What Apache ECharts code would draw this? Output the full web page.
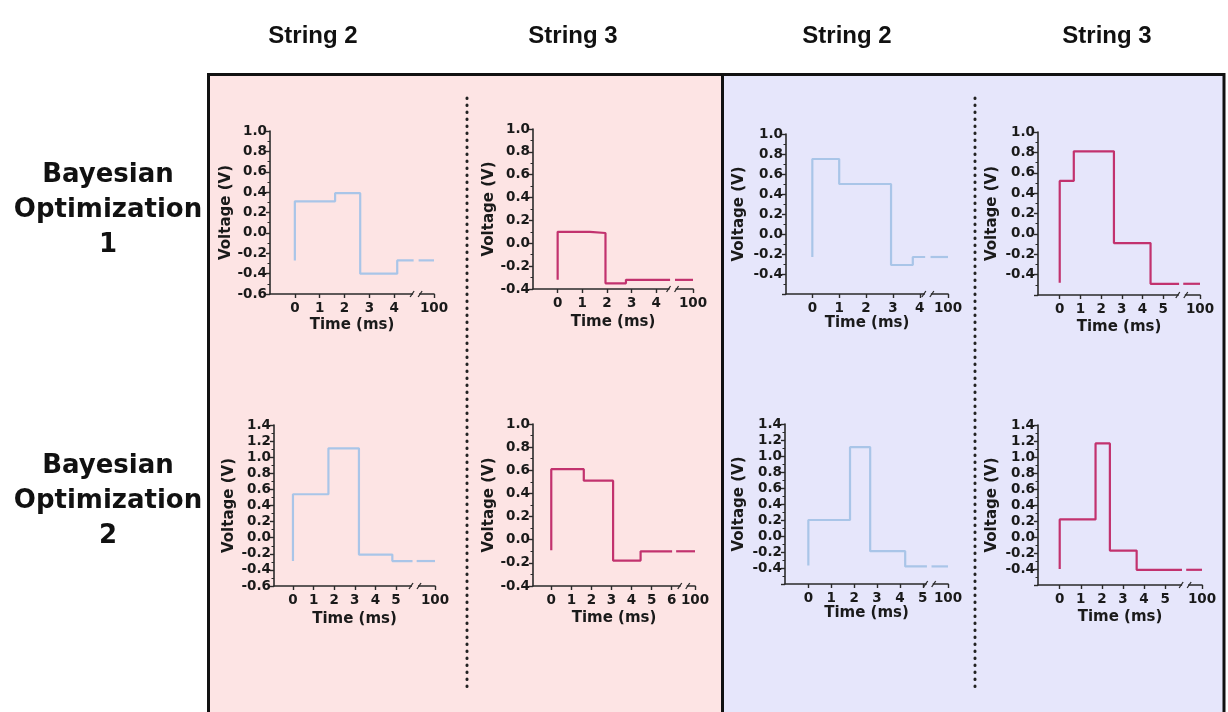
<!DOCTYPE html>
<html><head><meta charset="utf-8">
<script src="https://cdn.jsdelivr.net/npm/echarts@6/dist/echarts.min.js"></script>
<style>html,body{margin:0;padding:0;background:#fff}#c{width:1228px;height:712px}</style>
</head><body><div id="c"></div>
<script>
// ---------- text ----------
const columnHeaders = ['String 2', 'String 3', 'String 2', 'String 3'];
const rowLabels = ['Bayesian\nOptimization\n1', 'Bayesian\nOptimization\n2'];
const xAxisName = 'Time (ms)';
const yAxisName = 'Voltage (V)';
const finalTimeMs = 100;

// ---------- data: step times (ms) and voltage levels (V) ----------
// point k: at time times[k] the voltage becomes volts[k]; the last level is held until 100 ms
const bo1Str2LeftTimes  = [0, 0, 1.62, 2.63, 4.12];
const bo1Str2LeftVolts  = [-0.27, 0.31, 0.39, -0.40, -0.27];
const bo1Str3LeftTimes  = [0, 0, 1.31, 1.94, 2.77];
const bo1Str3LeftVolts  = [-0.32, 0.10, 0.09, -0.35, -0.32];
const bo1Str2RightTimes = [0, 0, 1.00, 2.93, 3.74];
const bo1Str2RightVolts = [-0.23, 0.75, 0.50, -0.31, -0.23];
const bo1Str3RightTimes = [0, 0, 0.68, 2.62, 4.39];
const bo1Str3RightVolts = [-0.48, 0.52, 0.81, -0.09, -0.49];
const bo2Str2LeftTimes  = [0, 0, 1.72, 3.20, 4.82];
const bo2Str2LeftVolts  = [-0.29, 0.54, 1.11, -0.21, -0.29];
const bo2Str3LeftTimes  = [0, 0, 1.62, 3.08, 4.45];
const bo2Str3LeftVolts  = [-0.09, 0.61, 0.51, -0.18, -0.10];
const bo2Str2RightTimes = [0, 0, 1.82, 2.70, 4.23];
const bo2Str2RightVolts = [-0.37, 0.20, 1.11, -0.19, -0.38];
const bo2Str3RightTimes = [0, 0, 1.70, 2.38, 3.65];
const bo2Str3RightVolts = [-0.40, 0.22, 1.17, -0.17, -0.41];

// ---------- tick labels ----------
const xTicks4 = [0, 1, 2, 3, 4, 100];
const xTicks5 = [0, 1, 2, 3, 4, 5, 100];
const xTicks6 = [0, 1, 2, 3, 4, 5, 6, 100];

const panelTimes = [bo1Str2LeftTimes, bo1Str3LeftTimes, bo1Str2RightTimes, bo1Str3RightTimes,
                    bo2Str2LeftTimes, bo2Str3LeftTimes, bo2Str2RightTimes, bo2Str3RightTimes];
const panelVolts = [bo1Str2LeftVolts, bo1Str3LeftVolts, bo1Str2RightVolts, bo1Str3RightVolts,
                    bo2Str2LeftVolts, bo2Str3LeftVolts, bo2Str2RightVolts, bo2Str3RightVolts];
const panelXTicks = [xTicks4, xTicks4, xTicks4, xTicks5, xTicks5, xTicks6, xTicks5, xTicks5];
const panelString = [2, 3, 2, 3, 2, 3, 2, 3];

// ---------- layout (positions/sizes only) ----------
const layout = [
  {left:270, top:131, width:164, height:163, xMin:-1.00, xEnd:5.60, lineBrk:4.88, axisBrk:4.88, yMin:-0.6, yMax:1.0, yLabelMin:-0.6, gapY:36, gapX:24, bg:'pink'},
  {left:533, top:129, width:160, height:160, xMin:-1.00, xEnd:5.49, lineBrk:4.66, axisBrk:4.66, yMin:-0.4, yMax:1.0, yLabelMin:-0.4, gapY:34, gapX:26, bg:'pink'},
  {left:786, top:134, width:162, height:160, xMin:-0.98, xEnd:5.05, lineBrk:4.30, axisBrk:4.30, yMin:-0.6, yMax:1.0, yLabelMin:-0.4, gapY:39, gapX:18, bg:'lav'},
  {left:1038, top:132, width:162, height:163, xMin:-1.05, xEnd:6.78, lineBrk:5.87, axisBrk:5.90, yMin:-0.6, yMax:1.0, yLabelMin:-0.4, gapY:38, gapX:25, bg:'lav'},
  {left:274, top:425, width:161, height:161, xMin:-0.92, xEnd:6.89, lineBrk:5.90, axisBrk:5.92, yMin:-0.6, yMax:1.4, yLabelMin:-0.6, gapY:37, gapX:26, bg:'pink'},
  {left:533, top:424, width:162, height:162, xMin:-0.91, xEnd:7.16, lineBrk:6.12, axisBrk:6.60, yMin:-0.4, yMax:1.0, yLabelMin:-0.4, gapY:34, gapX:25, bg:'pink'},
  {left:785, top:424, width:163, height:160, xMin:-1.02, xEnd:6.10, lineBrk:5.28, axisBrk:5.30, yMin:-0.6, yMax:1.4, yLabelMin:-0.4, gapY:38, gapX:18, bg:'lav'},
  {left:1038, top:425, width:164, height:160, xMin:-1.03, xEnd:6.75, lineBrk:5.90, axisBrk:5.95, yMin:-0.6, yMax:1.4, yLabelMin:-0.4, gapY:38, gapX:25, bg:'lav'}
];

const FONT = '"DejaVu Sans", sans-serif';
const HEAD_FONT = '"Liberation Sans", Arial, sans-serif';
const AXIS_COLOR = '#2a2a2a';
const BG = {pink:'#fde4e4', lav:'#e6e6fb'};
const LINE_COLOR = {2:'#a9c5e8', 3:'#c2326e'};

function axisPos(t, lay) { return t >= finalTimeMs ? lay.xEnd : t; }

const grids = [], xAxes = [], yAxes = [], series = [];
layout.forEach((lay, i) => {
  grids.push({left: lay.left, top: lay.top, width: lay.width, height: lay.height, containLabel: false});
  const tickPos = panelXTicks[i].map(t => axisPos(t, lay));
  xAxes.push({
    type:'value', gridIndex:i, min:lay.xMin, max:lay.xEnd,
    axisLine:{show:true, onZero:false, lineStyle:{color:AXIS_COLOR, width:1.6}},
    axisTick:{show:true, customValues:tickPos, length:4, lineStyle:{color:AXIS_COLOR, width:1.4}},
    axisLabel:{show:true, customValues:tickPos, margin:7, color:'#1a1a1a', fontFamily:FONT, fontWeight:'bold', fontSize:13.5,
      formatter: v => (v > lay.axisBrk ? String(finalTimeMs) : String(Math.round(v)))},
    splitLine:{show:false},
    name:xAxisName, nameLocation:'middle', nameGap:lay.gapX,
    nameTextStyle:{color:'#1a1a1a', fontFamily:FONT, fontWeight:'bold', fontSize:15}
  });
  yAxes.push({
    type:'value', gridIndex:i, min:lay.yMin, max:lay.yMax, interval:0.2,
    axisLine:{show:true, onZero:false, lineStyle:{color:AXIS_COLOR, width:1.6}},
    axisTick:{show:true, length:4, lineStyle:{color:AXIS_COLOR, width:1.4}},
    minorTick:{show:true, splitNumber:2, length:2.5, lineStyle:{color:AXIS_COLOR, width:1}},
    axisLabel:{margin:3, color:'#1a1a1a', fontFamily:FONT, fontWeight:'bold', fontSize:13.5,
      formatter: v => (v < lay.yLabelMin - 1e-6 ? '' : (Math.abs(v) < 1e-9 ? 0 : v).toFixed(1))},
    splitLine:{show:false},
    name:yAxisName, nameLocation:'middle', nameGap:lay.gapY,
    nameTextStyle:{color:'#1a1a1a', fontFamily:FONT, fontWeight:'bold', fontSize:15}
  });
  const times = panelTimes[i], volts = panelVolts[i];
  const last = volts[volts.length - 1];
  const color = LINE_COLOR[panelString[i]];
  const mainData = times.map((t, k) => [axisPos(t, lay), volts[k]]);
  mainData.push([lay.lineBrk - 0.1, last]);
  series.push({
    type:'line', xAxisIndex:i, yAxisIndex:i, step:'end', symbol:'none', silent:true, z:3,
    lineStyle:{color, width:2.2}, data: mainData
  });
  series.push({
    type:'line', xAxisIndex:i, yAxisIndex:i, symbol:'none', silent:true, z:3,
    lineStyle:{color, width:2.2}, data: [[lay.lineBrk + 0.1, last], [axisPos(finalTimeMs, lay), last]]
  });
  const bgc = BG[lay.bg];
  series.push({
    type:'custom', xAxisIndex:i, yAxisIndex:i, silent:true, clip:false, z:6,
    data:[[lay.axisBrk, lay.yMin]],
    renderItem: (params, api) => {
      const p = api.coord([api.value(0), api.value(1)]);
      return {type:'group', children:[
        {type:'rect', shape:{x:p[0]-3, y:p[1]-2.5, width:6, height:5}, style:{fill:bgc}},
        {type:'line', shape:{x1:p[0]-6, y1:p[1]+3, x2:p[0]-2, y2:p[1]-3}, style:{stroke:AXIS_COLOR, lineWidth:1.3}},
        {type:'line', shape:{x1:p[0]+2, y1:p[1]+3, x2:p[0]+6, y2:p[1]-3}, style:{stroke:AXIS_COLOR, lineWidth:1.3}}
      ]};
    }
  });
});

const headerX = [313, 573, 847, 1107];
const rowY = [210, 501];
const graphics = [
  {type:'rect', z:-20, shape:{x:208.5, y:74.5, width:514, height:660}, style:{fill:BG.pink, stroke:'#111', lineWidth:3}},
  {type:'rect', z:-20, shape:{x:722.5, y:74.5, width:501.5, height:660}, style:{fill:BG.lav, stroke:'#111', lineWidth:3}},
  {type:'line', z:-10, shape:{x1:467, y1:98, x2:467, y2:690}, style:{stroke:'#222', lineWidth:3, lineDash:[0.5, 6.5], lineCap:'round'}},
  {type:'line', z:-10, shape:{x1:975, y1:98, x2:975, y2:690}, style:{stroke:'#222', lineWidth:3, lineDash:[0.5, 6.5], lineCap:'round'}}
];
columnHeaders.forEach((h, k) => graphics.push({type:'text', z:10, style:{text:h, x:headerX[k], y:36, align:'center', verticalAlign:'middle',
  fontFamily:HEAD_FONT, fontWeight:'bold', fontSize:24, fill:'#111'}}));
rowLabels.forEach((r, k) => graphics.push({type:'text', z:10, style:{text:r, x:108, y:rowY[k], align:'center', verticalAlign:'middle',
  fontFamily:FONT, fontWeight:'bold', fontSize:26, lineHeight:35, fill:'#111'}}));

const chart = echarts.init(document.getElementById('c'), null, {renderer:'canvas'});
chart.setOption({
  animation:false,
  backgroundColor:'#ffffff',
  grid:grids, xAxis:xAxes, yAxis:yAxes, series:series, graphic:graphics
});
</script>
</body></html>
